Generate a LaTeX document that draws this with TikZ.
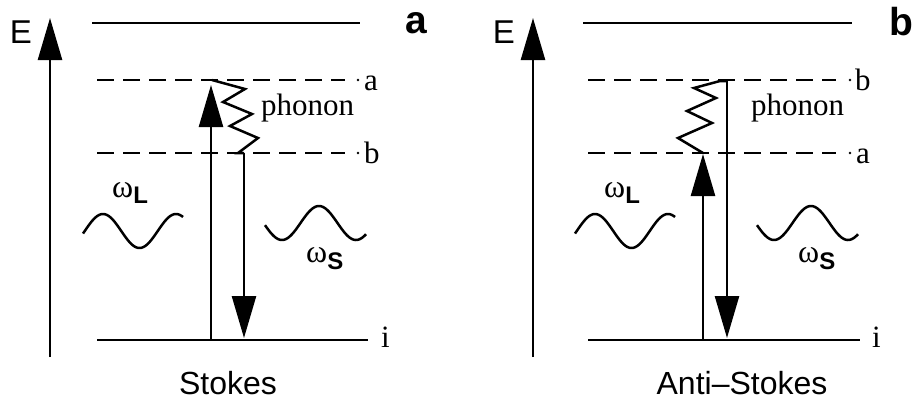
\documentclass[tikz,border=0pt]{standalone}
\usepackage{fontspec}
\setmainfont{Liberation Serif}
\setsansfont{Liberation Sans}
\usetikzlibrary{arrows.meta}
\begin{document}
\begin{tikzpicture}[x=1pt,y=-1pt,
  lvl/.style={line width=2.5pt},
  virt/.style={line width=2.5pt,dash pattern=on 17pt off 9pt},
  trans/.style={line width=2.5pt,-{Triangle[length=42pt,width=24pt]}},
  zig/.style={line width=2.5pt,line join=miter},
  wave/.style={line width=2.5pt},
  etext/.style={inner sep=0pt,font=\sffamily\fontsize{33}{33}\selectfont},
  panel/.style={inner sep=0pt,font=\sffamily\bfseries\fontsize{39}{39}\selectfont},
  lvltext/.style={inner sep=0pt,anchor=base west,font=\fontsize{31}{31}\selectfont},
  phtext/.style={inner sep=0pt,anchor=base west,font=\fontsize{31}{31}\selectfont},
  omtext/.style={inner sep=0pt,anchor=base west,font=\fontsize{32}{32}\selectfont},
  captext/.style={inner sep=0pt,font=\sffamily\fontsize{32}{32}\selectfont},
]
\newcommand{\omsub}[2]{ω\raisebox{-#2pt}{\sffamily\bfseries\fontsize{24}{24}\selectfont #1}}
\useasboundingbox (0,0) rectangle (914,405);

% ---------------- panel a : Stokes ----------------
\coordinate (aEb) at (50,357);
\coordinate (aEt) at (50,18);
\draw[trans] (aEb) -- (aEt);
\node[etext] (aE) at (21,32) {E};
\node[panel] (aP) at (416,23) {a};
\draw[lvl] (92,23) coordinate (aT1) -- (360,23) coordinate (aT2);
\draw[virt] (97,80) coordinate (aA1) -- (345,80) coordinate (aA2);
\fill (358,80) circle (1.4);
\node[lvltext] (aLa) at (364,90) {a};
\draw[virt] (97,153) coordinate (aB1) -- (345,153) coordinate (aB2);
\fill (358,153) circle (1.4);
\node[lvltext] (aLb) at (364,163) {b};
\draw[lvl] (97,340) coordinate (aG1) -- (368,340) coordinate (aG2);
\node[lvltext] (aLi) at (381,347) {i};
\coordinate (aUp0) at (211,340);
\coordinate (aUp1) at (211,85);
\draw[trans] (aUp0) -- (aUp1);
\coordinate (aZ0) at (212,80);
\coordinate (aZ1) at (244,153);
\draw[zig] (aZ0) -- (245,89) -- (223,102) -- (252,114) -- (230,126) -- (258,138) -- (238,153) -- (aZ1);
\coordinate (aDn1) at (244,338);
\draw[trans] (aZ1) -- (aDn1);
\node[phtext] (aPh) at (261,115) {phonon};
\draw[wave] plot[domain=83:183,samples=80] (\x,{231-17*cos(180*(\x-103)/36.5)});
\draw[wave] plot[domain=265:366,samples=80] (\x,{223+17*cos(180*(\x-282)/37)});
\node[omtext] (aWL) at (112,197) {\omsub{L}{6}};
\node[omtext] (aWS) at (306,262) {\omsub{S}{7}};
\node[captext] (aCap) at (228,383) {Stokes};

% ---------------- panel b : Anti-Stokes ----------------
\coordinate (bEb) at (533,357);
\coordinate (bEt) at (533,18);
\draw[trans] (bEb) -- (bEt);
\node[etext] (bE) at (504,32) {E};
\node[panel] (bP) at (901,22) {b};
\draw[lvl] (583,23) coordinate (bT1) -- (852,23) coordinate (bT2);
\draw[virt] (588,80) coordinate (bA1) -- (836,80) coordinate (bA2);
\fill (850,80) circle (1.4);
\node[lvltext] (bLb) at (855,90) {b};
\draw[virt] (588,153) coordinate (bB1) -- (836,153) coordinate (bB2);
\fill (850,153) circle (1.4);
\node[lvltext] (bLa) at (856,163) {a};
\draw[lvl] (588,340) coordinate (bG1) -- (860,340) coordinate (bG2);
\node[lvltext] (bLi) at (872,347) {i};
\coordinate (bUp0) at (703,340);
\coordinate (bUp1) at (703,154);
\draw[trans] (bUp0) -- (bUp1);
\coordinate (bZ0) at (703,153);
\coordinate (bZ1) at (727,81);
\draw[zig] (bZ0) -- (678,138) -- (712,123) -- (687,111) -- (716,98) -- (694,88) -- (720,81) -- (bZ1);
\coordinate (bDn1) at (727,338);
\draw[trans] (bZ1) -- (bDn1);
\node[phtext] (bPh) at (751,115) {phonon};
\draw[wave] plot[domain=575:675,samples=80] (\x,{231-17*cos(180*(\x-595)/36.5)});
\draw[wave] plot[domain=757:858,samples=80] (\x,{223+17*cos(180*(\x-774)/37)});
\node[omtext] (bWL) at (604,197) {\omsub{L}{6}};
\node[omtext] (bWS) at (798,262) {\omsub{S}{7}};
\node[captext] (bCap) at (742,383) {Anti–Stokes};
\end{tikzpicture}
\end{document}
